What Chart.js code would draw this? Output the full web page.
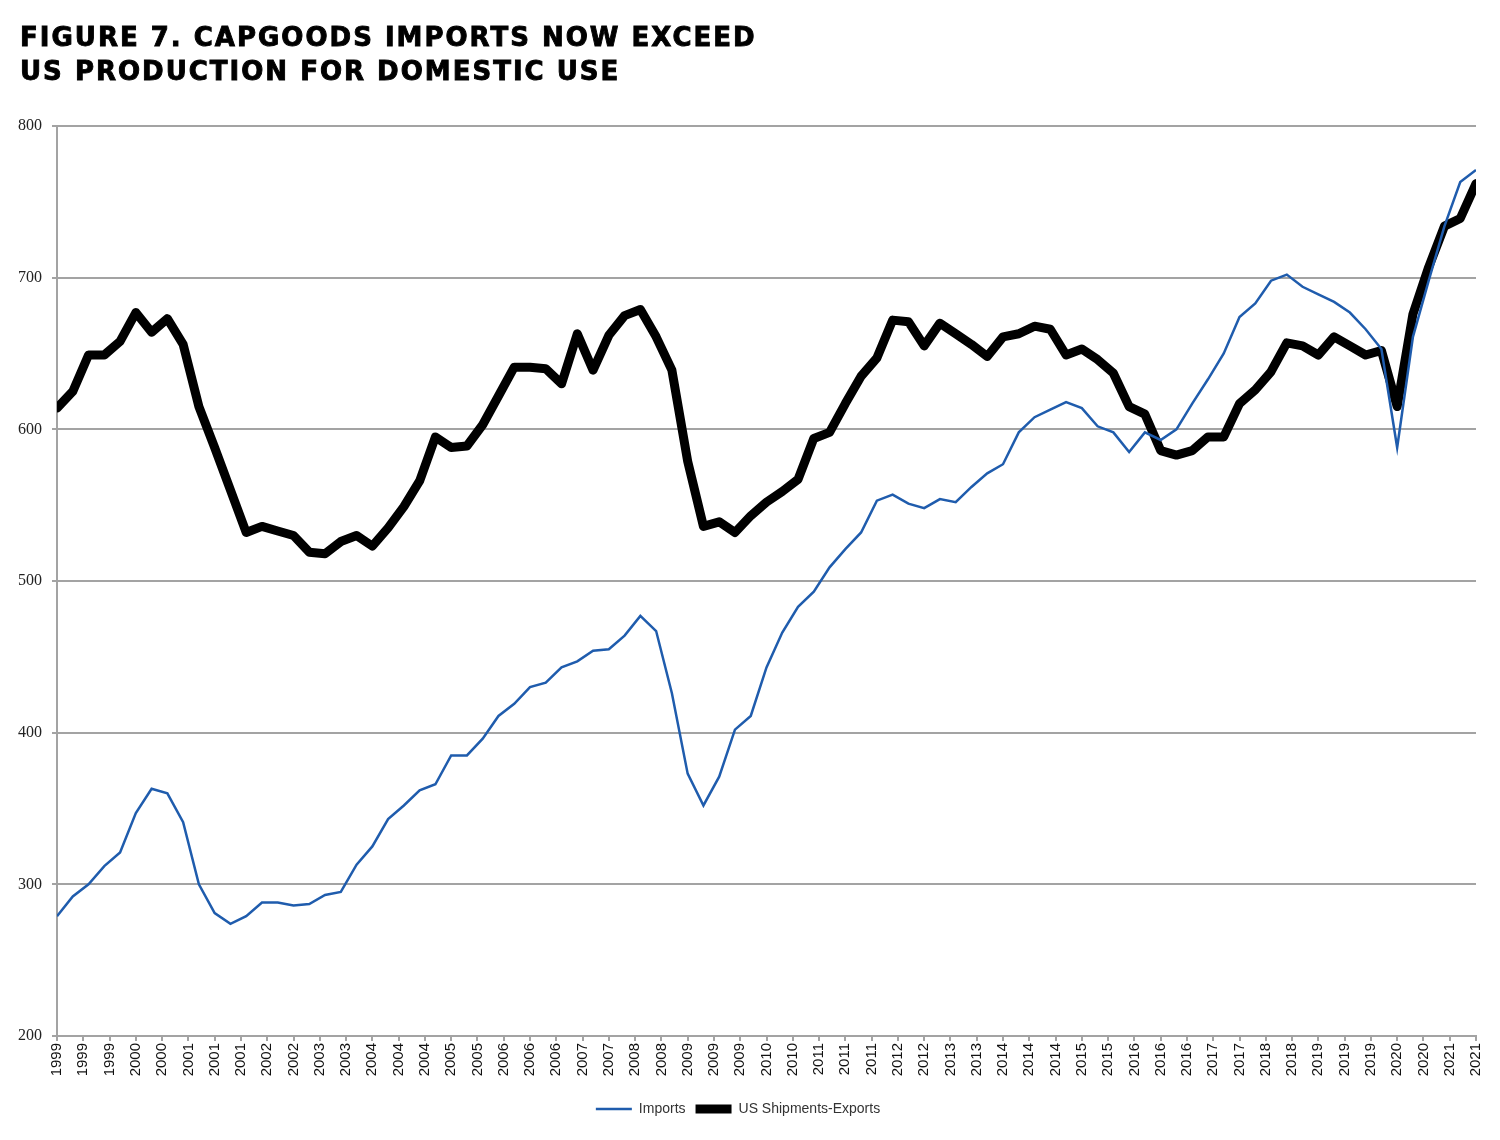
<!DOCTYPE html>
<html>
<head>
<meta charset="utf-8">
<script src="https://cdn.jsdelivr.net/npm/chart.js@4.4.0/dist/chart.umd.min.js"></script>
<style>
  html, body { margin: 0; padding: 0; background: #fff; }
  #wrap { position: relative; width: 1500px; height: 1140px; }
  #myChart { position: absolute; left: 0; top: 0; }
  #title {
    position: absolute; left: 20px; top: 20px;
    font-family: "DejaVu Sans", sans-serif; font-weight: bold;
    font-size: 26px; line-height: 34px; letter-spacing: 2px; color: #000;
    -webkit-text-stroke: 0.9px #000;
  }
</style>
</head>
<body>
<div id="wrap">
  <canvas id="myChart" width="1500" height="1140"></canvas>
  <div id="title">FIGURE 7. CAPGOODS IMPORTS NOW EXCEED<br>US PRODUCTION FOR DOMESTIC USE</div>
</div>
<script>
// quarterly points, 1999Q1 .. 2021Q3
const quarters = [];
for (let y = 1999; y <= 2021; y++) {
  for (let q = 1; q <= 4; q++) {
    if (y === 2021 && q > 3) break;
    quarters.push(y + "Q" + q);
  }
}

// axis labels, one every 5 months
const tickLabels = [
  "1999", "1999", "1999", "2000", "2000", "2001", "2001", "2001", "2002", "2002",
  "2003", "2003", "2004", "2004", "2004", "2005", "2005", "2006", "2006", "2006",
  "2007", "2007", "2008", "2008", "2009", "2009", "2009", "2010", "2010", "2011",
  "2011", "2011", "2012", "2012", "2013", "2013", "2014", "2014", "2014", "2015",
  "2015", "2016", "2016", "2016", "2017", "2017", "2018", "2018", "2019", "2019",
  "2019", "2020", "2020", "2021", "2021"
];

const imports = [
  279, 292, 300, 312, 321, 347, 363, 360, 341, 300,
  281, 274, 279, 288, 288, 286, 287, 293, 295, 313,
  325, 343, 352, 362, 366, 385, 385, 396, 411, 419,
  430, 433, 443, 447, 454, 455, 464, 477, 467, 426,
  373, 352, 371, 402, 411, 443, 466, 483, 493, 509,
  521, 532, 553, 557, 551, 548, 554, 552, 562, 571,
  577, 598, 608, 613, 618, 614, 602, 598, 585, 598,
  593, 600, 617, 633, 650, 674, 683, 698, 702, 694,
  689, 684, 677, 666, 653, 588, 661, 698, 734, 763,
  771
];

const shipmentsLessExports = [
  614, 625, 649, 649, 658, 677, 664, 673, 656, 615,
  588, 560, 532, 536, 533, 530, 519, 518, 526, 530,
  523, 535, 549, 566, 595, 588, 589, 603, 622, 641,
  641, 640, 630, 663, 639, 662, 675, 679, 661, 639,
  579, 536, 539, 532, 543, 552, 559, 567, 594, 598,
  617, 635, 647, 672, 671, 655, 670, 663, 656, 648,
  661, 663, 668, 666, 649, 653, 646, 637, 615, 610,
  586, 583, 586, 595, 595, 617, 626, 638, 657, 655,
  649, 661, 655, 649, 652, 615, 676, 707, 734, 739,
  762
];

// month offset from Jan 1999 for each quarter
function monthOf(label) {
  const y = parseInt(label.slice(0, 4), 10);
  const q = parseInt(label.slice(5), 10);
  return (y - 1999) * 12 + (q - 1) * 3;
}

const gridGrey = "#a3a3a3";

const ctx = document.getElementById("myChart").getContext("2d");
const chart = new Chart(ctx, {
  type: "line",
  data: {
    datasets: [
      {
        label: "Imports",
        data: quarters.map((q, i) => ({ x: monthOf(q), y: imports[i] })),
        borderColor: "#1f5cad",
        backgroundColor: "#1f5cad",
        borderWidth: 2.5,
        pointRadius: 0,
        tension: 0,
      },
      {
        label: "US Shipments-Exports",
        data: quarters.map((q, i) => ({ x: monthOf(q), y: shipmentsLessExports[i] })),
        borderColor: "#000",
        backgroundColor: "#000",
        borderWidth: 9,
        borderJoinStyle: "round",
        borderCapStyle: "round",
        pointRadius: 0,
        tension: 0,
      },
    ],
  },
  options: {
    responsive: false,
    animation: false,
    layout: { padding: { top: 126, left: 0, right: 24, bottom: 14 } },
    plugins: {
      title: { display: false },
      tooltip: { enabled: false },
      legend: {
        position: "bottom",
        labels: {
          usePointStyle: true,
          pointStyle: "line",
          pointStyleWidth: 36,
          padding: 10,
          color: "#333",
          font: { family: "Liberation Sans", size: 14 },
        },
      },
    },
    scales: {
      x: {
        type: "linear",
        min: 0,
        max: 270,
        afterBuildTicks: (scale) => {
          scale.ticks = tickLabels.map((t, i) => ({ value: i * 5 }));
        },
        afterFit: (scale) => { scale.height = 56; },
        grid: { drawOnChartArea: false, drawTicks: true, tickLength: 5, color: gridGrey, lineWidth: 2 },
        border: { color: gridGrey, width: 2 },
        ticks: {
          autoSkip: false,
          minRotation: 90,
          maxRotation: 90,
          padding: 2,
          color: "#111",
          font: { family: "Liberation Sans", size: 15 },
          callback: (v, i) => tickLabels[i],
        },
      },
      y: {
        min: 200,
        max: 800,
        afterFit: (scale) => { scale.width = 57; },
        grid: { color: gridGrey, lineWidth: 2, tickLength: 5 },
        border: { color: gridGrey, width: 2 },
        ticks: {
          stepSize: 100,
          padding: 10,
          color: "#222",
          font: { family: "Liberation Serif", size: 16 },
        },
      },
    },
  },
});
</script>
</body>
</html>
